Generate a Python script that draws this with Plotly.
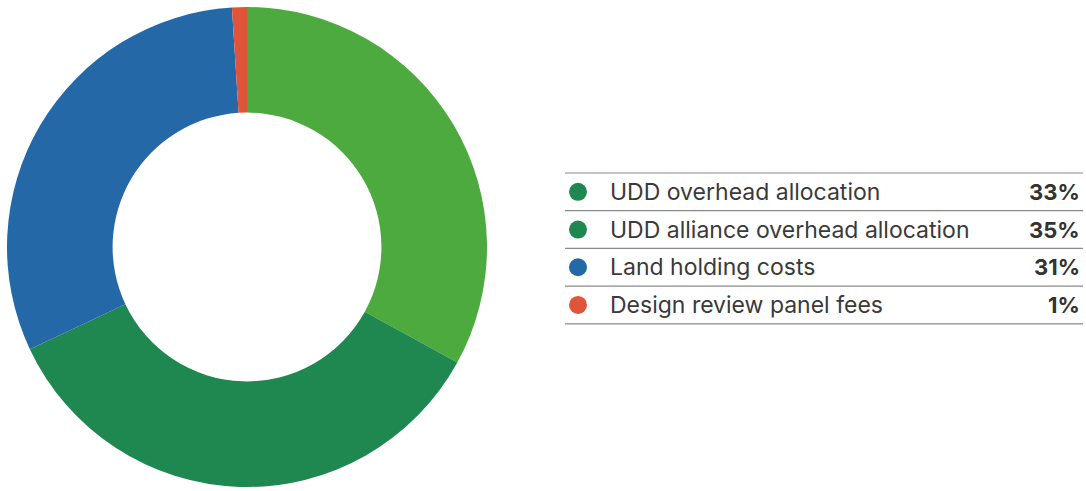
import plotly.graph_objects as go

# Cost breakdown
categories = [
    "UDD overhead allocation",
    "UDD alliance overhead allocation",
    "Land holding costs",
    "Design review panel fees",
]
shares = [33, 35, 31, 1]
slice_colors = ["#4CAA3E", "#1F8750", "#2568A8", "#E0553A"]
legend_dot_colors = ["#1F8750", "#1F8750", "#2568A8", "#E0553A"]

W, H = 1086, 491

fig = go.Figure()
fig.add_trace(go.Pie(
    labels=categories,
    values=shares,
    marker=dict(colors=slice_colors, line=dict(width=0)),
    hole=0.56,
    sort=False,
    direction="clockwise",
    rotation=0,
    textinfo="none",
    hoverinfo="label+percent",
    showlegend=False,
    domain=dict(x=[7 / W, 487 / W], y=[1 - 487 / H, 1 - 7 / H]),
))

# Table-style legend on the right
x0, x1 = 565, 1083
row_top = 173
row_h = 37.7
font_family = "Inter, Roboto, sans-serif"
shapes = []
annotations = []
for i in range(len(categories) + 1):
    y = row_top + i * row_h
    shapes.append(dict(
        type="line", xref="paper", yref="paper",
        x0=x0 / W, x1=x1 / W, y0=1 - y / H, y1=1 - y / H,
        line=dict(color="#8A8A8A", width=1.2),
    ))
for i, (name, val, col) in enumerate(zip(categories, shares, legend_dot_colors)):
    yc = row_top + (i + 0.5) * row_h
    r = 9
    shapes.append(dict(
        type="circle", xref="paper", yref="paper",
        x0=(578 - r) / W, x1=(578 + r) / W,
        y0=1 - (yc + r) / H, y1=1 - (yc - r) / H,
        fillcolor=col, line=dict(width=0),
    ))
    annotations.append(dict(
        text=name, xref="paper", yref="paper",
        x=608 / W, y=1 - yc / H, xanchor="left", yanchor="middle",
        showarrow=False, font=dict(family=font_family, size=23, color="#3A3A3A"),
    ))
    annotations.append(dict(
        text=f"<b>{val}%</b>", xref="paper", yref="paper",
        x=1082 / W, y=1 - yc / H, xanchor="right", yanchor="middle",
        showarrow=False, font=dict(family=font_family, size=22, color="#333333"),
    ))

fig.update_layout(
    width=W, height=H,
    margin=dict(l=0, r=0, t=0, b=0),
    paper_bgcolor="white",
    plot_bgcolor="white",
    shapes=shapes,
    annotations=annotations,
)

fig.write_html("out.html")
